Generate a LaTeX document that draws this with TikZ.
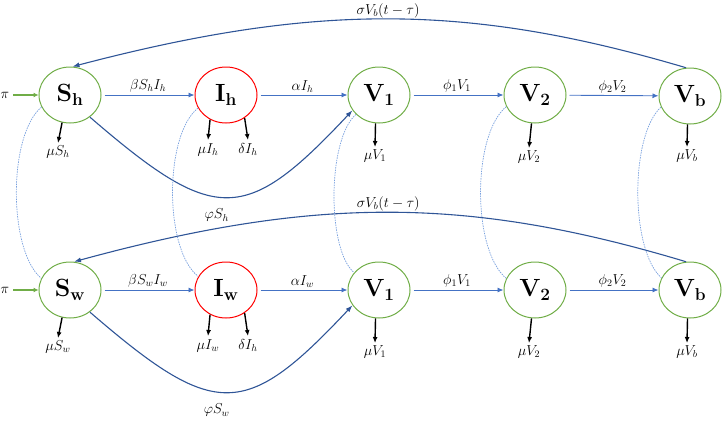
\documentclass[tikz,border=0pt]{standalone}
\usepackage{amsmath}
\usetikzlibrary{arrows.meta, shapes.geometric}
\definecolor{compgreen}{RGB}{112,173,71}
\definecolor{flowblue}{RGB}{68,114,196}
\definecolor{loopblue}{RGB}{47,85,151}
\definecolor{linkblue}{RGB}{120,160,222}
\begin{document}
\begin{tikzpicture}[x=1pt, y=-1pt,
  every node/.style={font=\fontsize{14}{16}\selectfont, inner sep=2pt},
  comp/.style={ellipse, draw=compgreen, line width=1pt, minimum width=62pt, minimum height=56pt,
    inner sep=0pt, font=\fontsize{24}{28}\selectfont},
  infc/.style={comp, draw=red},
  flow/.style={-{Latex[length=6pt, width=5pt]}, draw=flowblue, line width=0.9pt, shorten <=3pt},
  birth/.style={-{Latex[length=5pt, width=5pt]}, draw=compgreen, line width=1.6pt},
  death/.style={-{Latex[length=6pt, width=5pt]}, draw=black, line width=1.4pt},
  loop/.style={-{Latex[length=7pt, width=5pt]}, draw=loopblue, line width=1.1pt},
  link/.style={draw=linkblue, line width=0.7pt, dash pattern=on 1.5pt off 1pt}]
  \useasboundingbox (0,0) rectangle (724,421);

  % human row
  \node[comp] (Sh) at (70,95) {$\mathbf{S_h}$};
  \node[infc] (Ih) at (226,95) {$\mathbf{I_h}$};
  \node[comp] (V1h) at (379,95) {$\mathbf{V_1}$};
  \node[comp] (V2h) at (535,95) {$\mathbf{V_2}$};
  \node[comp] (Vbh) at (690,96) {$\mathbf{V_b}$};

  % wild row
  \node[comp] (Sw) at (70,290) {$\mathbf{S_w}$};
  \node[infc] (Iw) at (226,290) {$\mathbf{I_w}$};
  \node[comp] (V1w) at (379,290) {$\mathbf{V_1}$};
  \node[comp] (V2w) at (535,290) {$\mathbf{V_2}$};
  \node[comp] (Vbw) at (690,290) {$\mathbf{V_b}$};

  % recruitment
  \coordinate (pih) at (13,95);
  \coordinate (piw) at (13,290);
  \draw[birth] (pih) node[left=1pt]{$\pi$} -- (Sh);
  \draw[birth] (piw) node[left=1pt]{$\pi$} -- (Sw);

  % forward flows
  \draw[flow] (Sh) -- node[above]{$\beta S_hI_h$} (Ih);
  \draw[flow] (Ih) -- node[above]{$\alpha I_h$} (V1h);
  \draw[flow] (V1h) -- node[above]{$\phi_1V_1$} (V2h);
  \draw[flow] (V2h) -- node[above]{$\phi_2V_2$} (Vbh);
  \draw[flow] (Sw) -- node[above]{$\beta S_wI_w$} (Iw);
  \draw[flow] (Iw) -- node[above]{$\alpha I_w$} (V1w);
  \draw[flow] (V1w) -- node[above]{$\phi_1V_1$} (V2w);
  \draw[flow] (V2w) -- node[above]{$\phi_2V_2$} (Vbw);

  % deaths
  \coordinate (muSh) at (58,143);
  \coordinate (muIh) at (208,140);
  \coordinate (deIh) at (248,140);
  \coordinate (muV1h) at (375,147);
  \coordinate (muV2h) at (529,148);
  \coordinate (muVbh) at (687,147);
  \draw[death] (Sh.-106) -- (muSh) node[below=0pt]{$\mu S_h$};
  \draw[death] (Ih.-123) -- (muIh) node[below=1pt]{$\mu I_h$};
  \draw[death] (Ih.-51) -- (deIh) node[below=1pt]{$\delta I_h$};
  \draw[death] (V1h.-97) -- (muV1h) node[below=0pt]{$\mu V_1$};
  \draw[death] (V2h.-97) -- (muV2h) node[below=0pt]{$\mu V_2$};
  \draw[death] (Vbh.-95) -- (muVbh) node[below=0pt]{$\mu V_b$};

  \coordinate (muSw) at (58,338);
  \coordinate (muIw) at (208,336);
  \coordinate (deIw) at (248,336);
  \coordinate (muV1w) at (375,343);
  \coordinate (muV2w) at (529,343);
  \coordinate (muVbw) at (687,343);
  \draw[death] (Sw.-106) -- (muSw) node[below=0pt]{$\mu S_w$};
  \draw[death] (Iw.-123) -- (muIw) node[below=1pt]{$\mu I_w$};
  \draw[death] (Iw.-51) -- (deIw) node[below=1pt]{$\delta I_h$};
  \draw[death] (V1w.-97) -- (muV1w) node[below=0pt]{$\mu V_1$};
  \draw[death] (V2w.-97) -- (muV2w) node[below=0pt]{$\mu V_2$};
  \draw[death] (Vbw.-95) -- (muVbw) node[below=0pt]{$\mu V_b$};

  % vaccination bypass
  \draw[loop] (Sh.-48) .. controls (215,225) and (245,225) .. node[pos=0.45, below=10pt]{$\varphi S_h$} (V1h.-150);
  \draw[loop] (Sw.-48) .. controls (215,420) and (245,420) .. node[pos=0.45, below=10pt]{$\varphi S_w$} (V1w.-150);

  % delayed return
  \draw[loop] (Vbh.98) .. controls (467,3) and (315,3) .. node[pos=0.5, above=0pt, inner sep=0.5pt]{$\sigma V_b(t-\tau)$} (Sh.85);
  \draw[loop] (Vbw.98) .. controls (467,196) and (315,196) .. node[pos=0.5, above=0pt, inner sep=0.5pt]{$\sigma V_b(t-\tau)$} (Sw.82);

  % row links
  \draw[link] (Sh.-157) .. controls (8,135) and (8,250) .. (Sw.158);
  \draw[link] (Ih.-155) .. controls (164,135) and (164,250) .. (Iw.154);
  \draw[link] (V1h.-140) .. controls (327,140) and (327,250) .. (V1w.145);
  \draw[link] (V2h.-158) .. controls (472,135) and (472,250) .. (V2w.158);
  \draw[link] (Vbh.-159) .. controls (630,135) and (630,250) .. (Vbw.157);
\end{tikzpicture}
\end{document}
